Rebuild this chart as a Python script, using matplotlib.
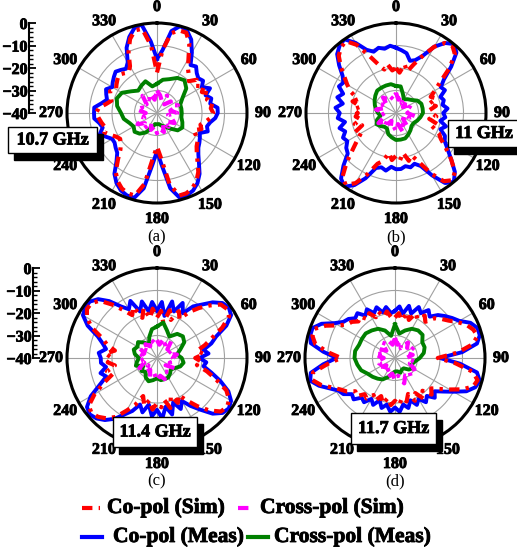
import numpy as np
import matplotlib
matplotlib.use('Agg')
import matplotlib.pyplot as plt
import matplotlib.patheffects as pe
from matplotlib.lines import Line2D
from matplotlib.patches import Rectangle
from matplotlib.ticker import MultipleLocator, AutoMinorLocator

plt.rcParams['font.family'] = ['Liberation Serif', 'DejaVu Serif']

# angles (deg) of the read-off points
ang5 = np.arange(0, 360, 5)
ang10 = np.arange(0, 360, 10)

# ---------------- (a) 10.7 GHz ----------------
a_co_meas = [-16, -12, -3, 0, -1, -4, -9, -14, -13, -15, -16, -15, -17, -14, -17, -15, -16, -13,
             -13, -14, -16, -17, -16, -19, -18, -17, -16, -14, -11, -7, -4, -2, -1, -1, -6, -17,
             -23, -17, -6, -1, -1, -2, -4, -7, -12, -15, -16, -17, -17, -15, -13, -15, -14, -12,
             -12, -12, -15, -17, -16, -15, -17, -16, -15, -14, -15, -16, -14, -8, -4, -1, 0, -8]
a_co_sim = [-22, -12, -4, -2, -2, -6, -12, -16, -18, -20, -17, -19, -16, -18, -15, -17, -15, -16,
            -15, -16, -18, -20, -19, -22, -20, -18, -17, -15, -12, -8, -5, -3, -2, -2, -8, -20,
            -25, -20, -8, -2, -2, -3, -5, -8, -13, -17, -19, -20, -19, -17, -15, -16, -15, -14,
            -13, -14, -17, -19, -18, -17, -19, -18, -17, -16, -17, -18, -16, -10, -5, -2, -2, -10]
a_cross_meas = [-27, -25, -24, -22, -21, -23, -27, -29, -29, -29, -29, -28, -27, -28, -31, -33, -34, -35,
                -35, -35, -33, -30, -28, -27, -28, -27, -25, -24, -22, -21, -22, -25, -27, -26, -25, -28]
a_cross_sim = [-30, -32, -34, -31, -35, -32, -33, -30, -34, -31, -35, -33, -31, -34, -32, -35, -31, -33,
               -31, -34, -32, -35, -31, -33, -30, -34, -32, -35, -31, -33, -32, -34, -30, -33, -31, -34]

# ---------------- (b) 11 GHz ----------------
b_co_meas = [-11, -12, -13, -16, -15, -12, -6, -2, 0, -2, -8, -14, -17, -16, -19, -18, -19, -17,
             -19, -18, -20, -17, -19, -16, -15, -12, -8, -3, 0, -2, -8, -14, -16, -15, -16, -15,
             -15, -16, -14, -15, -14, -8, -3, 0, -2, -7, -12, -13, -15, -14, -16, -14, -17, -14,
             -15, -13, -16, -13, -15, -12, -13, -11, -7, -3, -1, 0, -4, -9, -11, -10, -11, -10]
b_co_sim = [-20, -22, -18, -21, -17, -12, -6, -2, -1, -3, -9, -16, -20, -23, -21, -25, -22, -25,
            -24, -22, -25, -21, -23, -19, -17, -13, -8, -3, -1, -3, -9, -16, -20, -18, -22, -19,
            -21, -19, -22, -18, -16, -10, -4, -1, -3, -9, -15, -19, -22, -20, -24, -21, -24, -22,
            -23, -21, -24, -20, -22, -18, -15, -12, -8, -4, -2, -1, -5, -12, -17, -20, -18, -21]
b_cross_meas = [-28, -28, -31, -33, -32, -31, -29, -28, -28, -28, -29, -30, -31, -31, -30, -29, -28, -28,
                -28, -29, -30, -32, -32, -31, -30, -31, -33, -32, -31, -30, -29, -28, -27, -27, -27, -27]
b_cross_sim = [-31, -34, -32, -35, -33, -36, -32, -34, -33, -35, -31, -34, -33, -36, -32, -34, -31, -35,
               -32, -34, -33, -36, -32, -35, -31, -34, -33, -35, -31, -34, -32, -35, -31, -33, -32, -34]

# ---------------- (c) 11.4 GHz ----------------
c_co_meas = [-19, -15, -21, -14, -18, -13, -17, -12, -9, -5, -2, -1, -2, -6, -12, -15, -19, -17,
             -21, -18, -19, -15, -10, -5, -2, -1, -2, -5, -10, -14, -18, -15, -19, -14, -18, -13,
             -17, -14, -19, -15, -18, -14, -11, -7, -4, -2, -1, -2, -6, -12, -16, -14, -17, -15,
             -15, -14, -17, -15, -12, -6, -2, -1, -1, -3, -7, -12, -15, -12, -18, -14, -19, -15]
c_co_sim = [-22, -19, -24, -18, -22, -17, -20, -15, -11, -7, -3, -2, -3, -8, -14, -18, -22, -19,
            -23, -20, -22, -17, -12, -6, -3, -2, -3, -7, -12, -17, -21, -18, -22, -17, -21, -18,
            -20, -17, -21, -18, -22, -17, -13, -8, -5, -3, -2, -3, -8, -14, -19, -17, -21, -18,
            -20, -17, -21, -17, -14, -8, -4, -2, -2, -4, -9, -14, -18, -15, -21, -17, -22, -18]
c_cross_meas = [-26, -24, -27, -29, -26, -25, -26, -29, -31, -29, -28, -29, -31, -32, -31, -30, -30, -30,
                -31, -30, -29, -30, -32, -31, -33, -30, -31, -32, -30, -29, -30, -29, -31, -33, -30, -27]
c_cross_sim = [-32, -34, -31, -33, -30, -34, -32, -35, -31, -33, -32, -34, -31, -35, -32, -33, -30, -32,
               -30, -33, -31, -34, -32, -35, -31, -34, -32, -35, -33, -34, -31, -35, -32, -34, -31, -33]

# ---------------- (d) 11.7 GHz ----------------
d_co_meas = [-19, -17, -20, -16, -19, -15, -17, -14, -16, -13, -11, -9, -7, -3, -1, -1, -3, -10,
             -20, -11, -3, -1, -2, -5, -10, -14, -17, -15, -18, -16, -19, -17, -20, -17, -19, -16,
             -18, -16, -19, -17, -20, -17, -19, -16, -17, -14, -15, -12, -11, -8, -4, -1, -2, -8,
             -14, -8, -2, -1, -1, -4, -9, -12, -13, -15, -14, -17, -15, -18, -16, -19, -17, -20]
d_co_sim = [-22, -20, -23, -19, -22, -18, -20, -17, -19, -15, -13, -11, -8, -5, -3, -2, -5, -12,
            -21, -13, -5, -2, -3, -7, -12, -16, -19, -17, -21, -18, -22, -19, -23, -20, -22, -19,
            -21, -19, -22, -19, -22, -19, -21, -18, -19, -16, -17, -14, -12, -9, -5, -2, -3, -10,
            -16, -10, -4, -2, -2, -6, -11, -14, -15, -17, -16, -19, -17, -20, -18, -21, -19, -22]
d_cross_meas = [-25, -29, -27, -25, -24, -24, -26, -26, -27, -29, -31, -32, -31, -32, -34, -34, -33, -34,
                -34, -33, -31, -29, -28, -27, -26, -24, -23, -22, -22, -23, -23, -23, -24, -25, -27, -30]
d_cross_sim = [-31, -34, -32, -35, -31, -33, -30, -34, -32, -35, -31, -33, -30, -32, -29, -31, -28, -32,
               -30, -33, -31, -34, -32, -35, -31, -33, -32, -35, -31, -34, -32, -35, -31, -33, -32, -34]

angle_labels = [str(a) for a in range(0, 360, 30)]
freqs = ['10.7 GHz', '11 GHz', '11.4 GHz', '11.7 GHz']
panel_tags = ['(a)', '(b)', '(c)', '(d)']

W, H = 517, 548
fig = plt.figure(figsize=(W / 100, H / 100), dpi=100)

R = 90  # circle radius in px
centers = [(157, 113), (396, 113), (157, 358), (395, 358)]
data = [(a_co_sim, a_cross_sim, a_co_meas, a_cross_meas),
        (b_co_sim, b_cross_sim, b_co_meas, b_cross_meas),
        (c_co_sim, c_cross_sim, c_co_meas, c_cross_meas),
        (d_co_sim, d_cross_sim, d_co_meas, d_cross_meas)]

dashdot = (0, (2.5, 1.5, 0.8, 1.5))
heavy = [pe.withStroke(linewidth=0.6, foreground='black')]


def closed(ang, vals):
    t = np.deg2rad(np.append(ang, ang[0]))
    v = np.append(vals, vals[0])
    return t, v


for (cx, cy), (co_s, cr_s, co_m, cr_m) in zip(centers, data):
    rect = [(cx - R) / W, 1 - (cy + R) / H, 2 * R / W, 2 * R / H]
    ax = fig.add_axes(rect, projection='polar')
    ax.set_theta_zero_location('N')
    ax.set_theta_direction(-1)
    ax.set_ylim(-40, 0)
    ax.set_rticks([-30, -20, -10])
    ax.set_yticklabels([])
    ax.set_thetagrids(range(0, 360, 30), angle_labels)
    for lab in ax.get_xticklabels():
        lab.set_fontweight('bold')
        lab.set_fontsize(11.5)
        lab.set_path_effects(heavy)
    ax.tick_params(axis='x', pad=1)
    ax.grid(color='#a0a0a0', lw=0.8)
    ax.spines['polar'].set_linewidth(2.2)

    t, v = closed(ang5, co_m)
    ax.plot(t, v, color='#0000ff', lw=2.8)
    t, v = closed(ang5, co_s)
    ax.plot(t, v, color='#ff0000', lw=3, linestyle=dashdot)
    t, v = closed(ang10, cr_m)
    ax.plot(t, v, color='#008000', lw=2.8)
    t, v = closed(ang10, cr_s)
    ax.plot(t, v, color='#ff00ff', lw=3, linestyle=dashdot)

# radial dB scales at the left of (a) and (c)
for x_sp, cy in [(29, 113), (33, 358)]:
    sax = fig.add_axes([x_sp / W, 1 - cy / H, 0.001, R / H])
    sax.set_ylim(-40, 0)
    sax.set_xticks([])
    for s in ['top', 'right', 'bottom']:
        sax.spines[s].set_visible(False)
    sax.spines['left'].set_linewidth(1.5)
    sax.yaxis.set_major_locator(MultipleLocator(10))
    sax.yaxis.set_minor_locator(AutoMinorLocator(5))
    sax.tick_params(axis='y', which='major', direction='in', length=5, width=1.3, pad=1)
    sax.tick_params(axis='y', which='minor', direction='in', length=3, width=1)
    for lab in sax.get_yticklabels():
        lab.set_fontweight('bold')
        lab.set_fontsize(11.5)
        lab.set_path_effects(heavy)

# panel tags
for (cx, cy), tag in zip(centers, panel_tags):
    fig.text(cx / W, 1 - 237 / H if cy < 200 else 1 - 481 / H, tag, ha='center', va='center',
             fontsize=12)

# frequency boxes with drop shadow: (x0, x1, y0, y1) in px
boxes = [(8, 97, 127, 153), (448, 530, 120, 147), (113, 197, 417, 447), (351, 436, 413, 444)]
for (x0, x1, y0, y1), f in zip(boxes, freqs):
    fig.add_artist(Rectangle(((x0 + 6) / W, 1 - (y1 + 7) / H), (x1 - x0) / W, (y1 - y0) / H,
                             transform=fig.transFigure, facecolor='black', edgecolor='black',
                             zorder=5))
    fig.add_artist(Rectangle((x0 / W, 1 - y1 / H), (x1 - x0) / W, (y1 - y0) / H,
                             transform=fig.transFigure, facecolor='white', edgecolor='black',
                             lw=1, zorder=6))
    xc = (x0 + min(x1, 520)) / 2
    fig.text(xc / W, 1 - (y0 + y1) / 2 / H, f, ha='center', va='center', fontsize=13,
             fontweight='bold', zorder=7, path_effects=heavy)

# legend
leg = [((82, 100), 508, '#ff0000', dashdot, 107, 'Co-pol (Sim)'),
       ((238, 254), 508, '#ff00ff', dashdot, 260, 'Cross-pol (Sim)'),
       ((82, 102), 537, '#0000ff', '-', 113, 'Co-pol (Meas)'),
       ((248, 268), 537, '#008000', '-', 274, 'Cross-pol (Meas)')]
for (x0, x1), y, c, ls, xt, txt in leg:
    fig.add_artist(Line2D([x0 / W, x1 / W], [1 - y / H, 1 - y / H], transform=fig.transFigure,
                          color=c, lw=3, linestyle=ls))
    fig.text(xt / W, 1 - y / H, txt, ha='left', va='center', fontsize=15.5, fontweight='bold',
             path_effects=heavy)

fig.savefig('out.png', dpi=100)
